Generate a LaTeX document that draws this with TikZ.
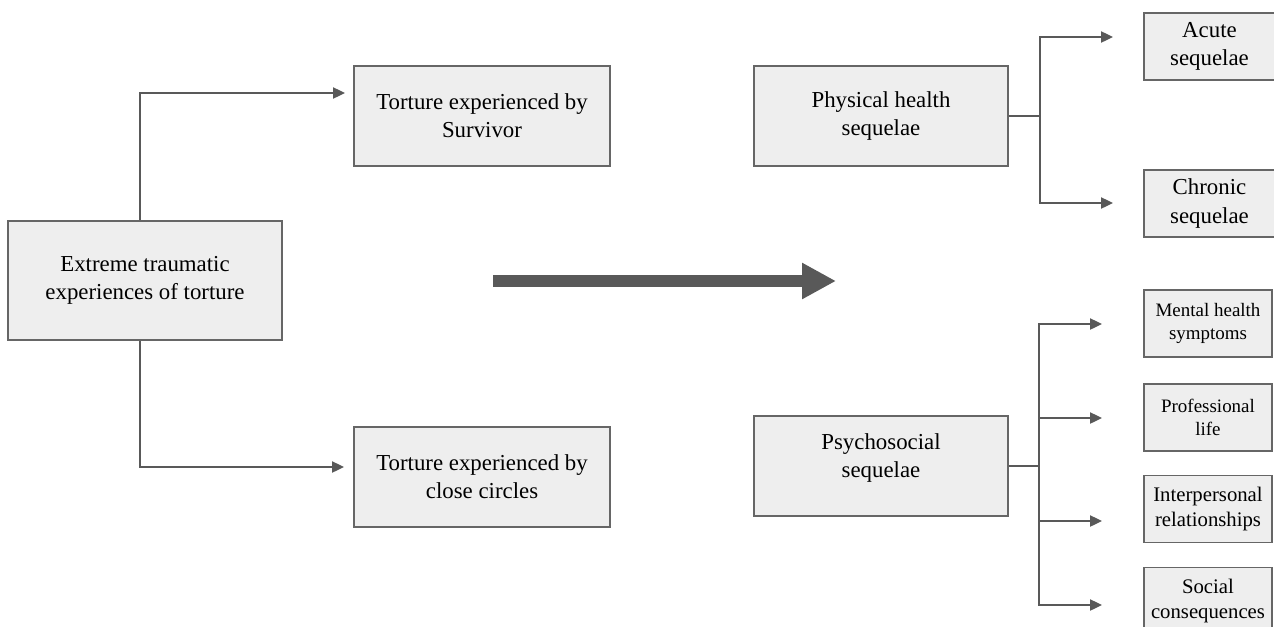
\documentclass[tikz,border=0pt]{standalone}
\usepackage{fontspec}
\setmainfont{Liberation Serif}
\usetikzlibrary{arrows.meta}
\definecolor{boxfill}{HTML}{EEEEEE}
\definecolor{boxline}{HTML}{666666}
\definecolor{arrowgray}{HTML}{595959}

\begin{document}
\begin{tikzpicture}[
  x=0.02cm, y=-0.02cm,
  box/.style={draw=boxline,fill=boxfill,line width=0.8pt,align=center,inner sep=0pt,
    font=\fontsize{13}{16}\selectfont},
  bigbox/.style={box,minimum width=5.12cm,minimum height=2cm},
  smallbox/.style={box,minimum width=2.56cm,minimum height=1.34cm,
    font=\fontsize{10.8}{13}\selectfont},
  conn/.style={draw=arrowgray,line width=0.75pt,-{Triangle[length=6.8pt,width=6.4pt]}},
  link/.style={draw=arrowgray,line width=0.75pt}
]
  \clip (0,0) rectangle (1274,626);

  % left part
  \node[box,minimum width=5.48cm,minimum height=2.38cm] (E) at (145,280.5)
    {Extreme traumatic\\experiences of torture};
  \node[bigbox] (S) at (482,116) {Torture experienced by\\Survivor};
  \node[bigbox] (C) at (482,477) {Torture experienced by\\close circles};

  \coordinate (tS) at (345,93);
  \coordinate (tC) at (344,467);
  \draw[conn] ([xshift=-0.1cm]E.north) |- (tS);
  \draw[conn] ([xshift=-0.1cm]E.south) |- (tC);

  % big arrow
  \coordinate (bigL) at (493,281);
  \coordinate (bigR) at (836,281);
  \draw[draw=arrowgray,line width=0.24cm,-{Triangle[length=0.68cm,width=0.68cm]}]
    (bigL) -- (bigR);

  % right part
  \node[bigbox,minimum width=5.08cm] (P) at (881,116) {Physical health\\sequelae};
  \node[bigbox,minimum width=5.08cm,text depth=12pt] (Q) at (881,466) {Psychosocial\\sequelae};

  \node[smallbox,minimum width=2.62cm,font=\fontsize{13}{16}\selectfont] (P1) at (1209.5,46.5)
    {Acute\\sequelae};
  \node[smallbox,minimum width=2.62cm,font=\fontsize{13}{16}\selectfont] (P2) at (1209.5,203.5)
    {Chronic\\sequelae};

  \node[smallbox] (Q1) at (1208,323.5) {Mental health\\symptoms};
  \node[smallbox] (Q2) at (1208,417.5) {Professional\\life};
  \node[smallbox,font=\fontsize{11.8}{14}\selectfont] (Q3) at (1208,509)
    {Interpersonal\\relationships};
  \node[smallbox,font=\fontsize{11.8}{14}\selectfont] (Q4) at (1208,601)
    {Social\\consequences};

  \coordinate (pJ) at (1040,116);
  \coordinate (pA) at (1113,37);
  \coordinate (pB) at (1113,203);
  \draw[link] (P.east) -- (pJ);
  \draw[conn] (pJ) |- (pA);
  \draw[conn] (pJ) |- (pB);

  \coordinate (qJ) at (1039,466);
  \coordinate (qA) at (1102,324);
  \coordinate (qB) at (1102,418);
  \coordinate (qC) at (1102,521);
  \coordinate (qD) at (1102,605);
  \draw[link] (Q.east) -- (qJ);
  \draw[conn] (qJ) |- (qA);
  \draw[conn] (qJ) |- (qB);
  \draw[conn] (qJ) |- (qC);
  \draw[conn] (qJ) |- (qD);
\end{tikzpicture}
\end{document}
